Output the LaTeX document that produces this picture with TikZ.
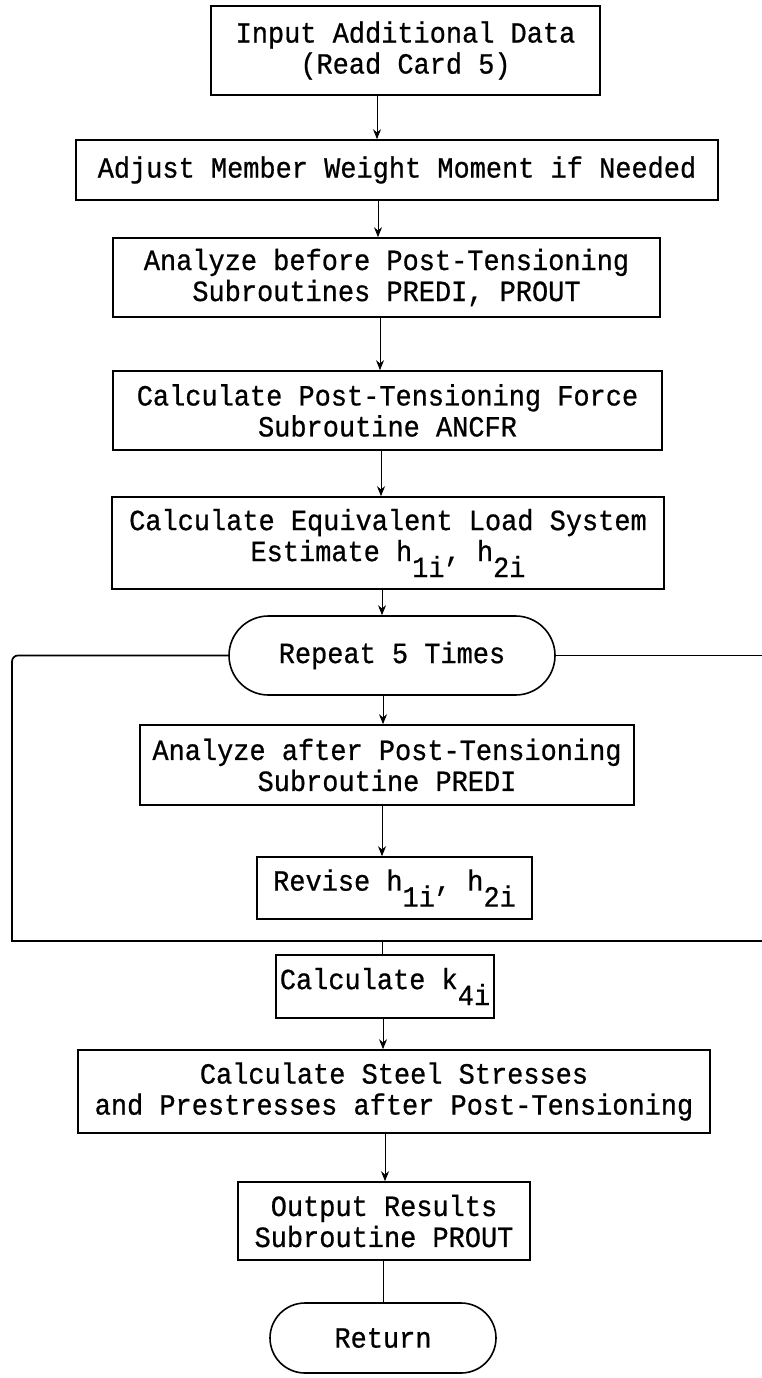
\documentclass[tikz,border=0pt]{standalone}
\usepackage{fontspec}
\newfontfamily\tw[FakeStretch=0.92,FakeBold=0.7]{Liberation Mono}
\usetikzlibrary{arrows.meta}
\newcommand\sbs[1]{\raisebox{-16pt}{#1}}
\begin{document}
\begin{tikzpicture}[x=1pt,y=-1pt,
  box/.style={draw, line width=1.6pt, inner sep=0pt, align=center,
    font=\tw\fontsize{29.3pt}{31pt}\selectfont},
  term/.style={box, rounded corners=#1},
  arr/.style={line width=1pt, -{Stealth[length=10pt,width=8pt]}},
  link/.style={line width=1pt},
  loopln/.style={line width=1.7pt}]
\useasboundingbox (0,0) rectangle (762,1378);

\node[box, minimum width=389pt, minimum height=89pt] (in) at (405.5,50.5)
  {Input Additional Data\\(Read Card 5)};
\node[box, minimum width=642pt, minimum height=60pt] (adj) at (397,170)
  {Adjust Member Weight Moment if Needed};
\node[box, minimum width=547pt, minimum height=79pt] (anb) at (386.5,277.5)
  {Analyze before Post-Tensioning\\Subroutines PREDI, PROUT};
\node[box, minimum width=549pt, minimum height=79pt] (ptf) at (387.5,410.5)
  {Calculate Post-Tensioning Force\\Subroutine ANCFR};
\node[box, minimum width=552pt, minimum height=92pt] (eqv) at (388,543)
  {Calculate Equivalent Load System\\Estimate h\sbs{1i}, h\sbs{2i}};
\node[term=39.5pt, minimum width=326pt, minimum height=79pt] (rep) at (392,655.5)
  {Repeat 5 Times};
\node[box, minimum width=494pt, minimum height=80pt] (ana) at (387,765)
  {Analyze after Post-Tensioning\\Subroutine PREDI};
\node[box, minimum width=275pt, minimum height=62pt] (rev) at (394.5,888)
  {Revise h\sbs{1i}, h\sbs{2i}};
\node[box, minimum width=218pt, minimum height=63pt] (k4i) at (385,986.5)
  {Calculate k\sbs{4i}};
\node[box, minimum width=632pt, minimum height=83pt] (stl) at (394,1091.5)
  {Calculate Steel Stresses\\and Prestresses after Post-Tensioning};
\node[box, minimum width=292pt, minimum height=78pt] (out) at (384,1221)
  {Output Results\\Subroutine PROUT};
\node[term=35pt, minimum width=226pt, minimum height=70pt] (ret) at (383,1338)
  {Return};

% connector columns
\coordinate (c1) at (377,0);
\coordinate (c2) at (378,0);
\coordinate (c3) at (380,0);
\coordinate (c4) at (381,0);
\coordinate (c5) at (382,0);
\coordinate (c6) at (383,0);
\coordinate (c7) at (385,0);

\draw[arr] (in.south -| c1) -- (adj.north -| c1);
\draw[arr] (adj.south -| c2) -- (anb.north -| c2);
\draw[arr] (anb.south -| c3) -- (ptf.north -| c3);
\draw[arr] (ptf.south -| c4) -- (eqv.north -| c4);
\draw[arr] (eqv.south -| c5) -- (rep.north -| c5);
\draw[arr] (rep.south -| c6) -- (ana.north -| c6);
\draw[arr] (ana.south -| c5) -- (rev.north -| c5);

% loop
\coordinate (ltop) at (12,655.5);
\coordinate (lmid) at (12,800);
\coordinate (lbot) at (12,941);
\coordinate (rbot) at (775,941);
\coordinate (rtop) at (775,655.5);
\coordinate (lj) at (382,941);
\draw[loopln, rounded corners=6pt] (rep.west) -- (ltop) -- (lmid);
\draw[loopln] (lmid) -- (lbot) -- (rbot) -- (rtop) -- (rep.east);

\draw[link] (lj) -- (k4i.north -| lj);
\draw[arr] (k4i.south -| c6) -- (stl.north -| c6);
\draw[arr] (stl.south -| c7) -- (out.north -| c7);
\draw[link] (out.south -| c6) -- (ret.north -| c6);
\end{tikzpicture}
\end{document}
